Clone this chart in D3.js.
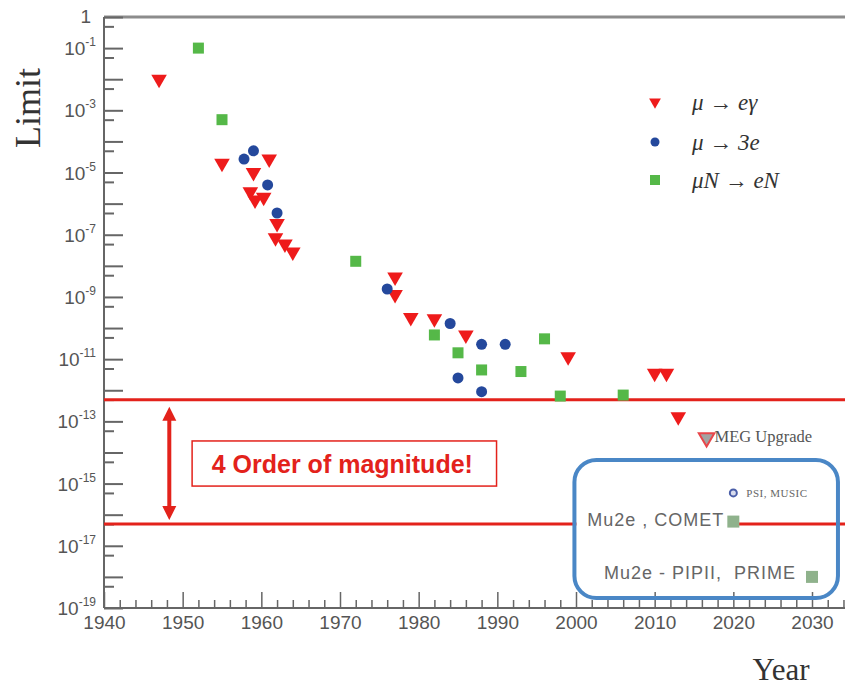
<!DOCTYPE html>
<html>
<head>
<meta charset="utf-8">
<script src="https://cdn.jsdelivr.net/npm/d3@7"></script>
<style>
  body { margin: 0; background: #fff; }
  svg { display: block; }
</style>
</head>
<body>
<div id="chart"></div>
<script>
// mu -> e gamma limits (red triangles)
var megYears  = [1947, 1955, 1959, 1961, 1958.6, 1959.2, 1960.3, 1962, 1961.8, 1963, 1964, 1977, 1977, 1979, 1982, 1986, 1999, 2010, 2011.5, 2013];
var megLimits = [1e-2, 2e-5, 1e-5, 2.7e-5, 2.4e-6, 1.3e-6, 1.6e-6, 2.3e-7, 8e-8, 5e-8, 2.8e-8, 4.4e-9, 1.2e-9, 2.2e-10, 2e-10, 6e-11, 1.2e-11, 3.5e-12, 3.5e-12, 1.4e-13];

// mu -> 3e limits (blue circles)
var m3eYears  = [1957.8, 1959, 1960.8, 1962, 1976, 1984, 1988, 1991, 1985, 1988];
var m3eLimits = [2.7e-5, 5e-5, 4e-6, 5e-7, 1.8e-9, 1.4e-10, 3e-11, 3e-11, 2.5e-12, 9e-13];

// mu N -> e N limits (green squares)
var convYears  = [1952, 1955, 1972, 1982, 1985, 1988, 1993, 1996, 1998, 2006];
var convLimits = [0.1, 5e-4, 1.4e-8, 6e-11, 1.6e-11, 4.5e-12, 4e-12, 4.5e-11, 6.5e-13, 7e-13];

// future projections
var megUpgrade   = {year: 2016.6, limit: 3e-14, label: "MEG Upgrade"};
var m3eFuture    = {year: 2020, limit: 5e-16, label: "PSI, MUSIC"};
var convFuture   = [
  {year: 2020, limit: 6e-17, label: "Mu2e , COMET"},
  {year: 2030, limit: 1e-18, label: "Mu2e - PIPII,  PRIME"}
];

// the two reference lines
var refLines = [5e-13, 5e-17];

var legendLabels = ["μ → eγ", "μ → 3e", "μN → eN"];

var width = 845, height = 688;
var red = "#ee1b1b", blue = "#24489c", green = "#55b848", axisCol = "#666";
var lineRed = "#e3221b";

var svg = d3.select("#chart").append("svg")
  .attr("width", width)
  .attr("height", height);

var x = d3.scaleLinear().domain([1940, 2030]).range([104, 812]);
var y = d3.scaleLog().domain([1, 1e-19]).range([17, 608]);

// top frame line
svg.append("line")
  .attr("x1", x(1940)).attr("x2", width)
  .attr("y1", y(1)).attr("y2", y(1))
  .attr("stroke", "#8c8c8c").attr("stroke-width", 3);

// x axis
var majorYears = d3.range(1940, 2031, 10);
var minorYears = d3.range(1942, 2036, 2).filter(function(d) { return d % 10 != 0; });

var xMajor = svg.append("g")
  .attr("transform", "translate(0," + y(1e-19) + ")")
  .call(d3.axisBottom(x).tickValues(majorYears).tickSize(-16).tickPadding(5).tickFormat(d3.format("d")));
var xMinor = svg.append("g")
  .attr("transform", "translate(0," + y(1e-19) + ")")
  .call(d3.axisBottom(x).tickValues(minorYears).tickSize(-8).tickFormat(""));

[xMajor, xMinor].forEach(function(g) {
  g.select(".domain").remove();
  g.selectAll("line").attr("stroke", axisCol).attr("stroke-width", 1.5);
});
xMajor.selectAll("text")
  .attr("fill", "#555")
  .style("font-family", "Liberation Sans, Arial, sans-serif")
  .style("font-size", "19px")
  .attr("dy", "0.85em");

svg.append("line")
  .attr("x1", x(1940)).attr("x2", width)
  .attr("y1", y(1e-19)).attr("y2", y(1e-19))
  .attr("stroke", axisCol).attr("stroke-width", 2);

// y axis
var decades = d3.range(0, -20, -1).map(function(e) { return Math.pow(10, e); });
var fives = d3.range(-1, -20, -1).map(function(e) { return 5 * Math.pow(10, e); });

var yMajor = svg.append("g")
  .attr("transform", "translate(" + x(1940) + ",0)")
  .call(d3.axisLeft(y).tickValues(decades).tickSize(-19).tickFormat(""));
var yMinor = svg.append("g")
  .attr("transform", "translate(" + x(1940) + ",0)")
  .call(d3.axisLeft(y).tickValues(fives).tickSize(-10).tickFormat(""));

[yMajor, yMinor].forEach(function(g) {
  g.select(".domain").remove();
  g.selectAll("line").attr("stroke", axisCol).attr("stroke-width", 2);
});

svg.append("line")
  .attr("x1", x(1940)).attr("x2", x(1940))
  .attr("y1", y(1)).attr("y2", y(1e-19))
  .attr("stroke", axisCol).attr("stroke-width", 2);

// y tick labels, odd exponents only
var labelExps = [0].concat(d3.range(-1, -20, -2));
var yLabels = svg.append("g")
  .style("font-family", "Liberation Sans, Arial, sans-serif")
  .attr("fill", "#555");

labelExps.forEach(function(e) {
  var t = yLabels.append("text")
    .attr("x", x(1940) - 8)
    .attr("y", y(Math.pow(10, e)) + 7)
    .attr("text-anchor", "end")
    .style("font-size", "19px");
  if (e == 0) {
    t.attr("x", x(1940) - 13).attr("y", y(1) + 6).text("1");
  } else {
    t.append("tspan").text("10");
    t.append("tspan").attr("dy", -9).style("font-size", "12px").text(String(e));
  }
});

// axis titles
svg.append("text")
  .attr("transform", "translate(40,108) rotate(-90)")
  .attr("text-anchor", "middle")
  .style("font-family", "Liberation Serif, DejaVu Serif, serif")
  .style("font-size", "36px")
  .attr("fill", "#333")
  .text("Limit");

svg.append("text")
  .attr("x", 781).attr("y", 680)
  .attr("text-anchor", "middle")
  .style("font-family", "Liberation Serif, DejaVu Serif, serif")
  .style("font-size", "31px")
  .attr("fill", "#333")
  .text("Year");

// reference lines
svg.selectAll(".ref")
  .data(refLines)
  .enter()
  .append("line")
  .attr("x1", x(1940)).attr("x2", width)
  .attr("y1", function(d) { return y(d); })
  .attr("y2", function(d) { return y(d); })
  .attr("stroke", lineRed)
  .attr("stroke-width", 3);

// double arrow between the lines
var ax = x(1948.3), ay1 = y(refLines[0]) + 7, ay2 = y(refLines[1]) - 4;
svg.append("line")
  .attr("x1", ax).attr("x2", ax)
  .attr("y1", ay1 + 10).attr("y2", ay2 - 10)
  .attr("stroke", lineRed).attr("stroke-width", 4);
svg.append("path")
  .attr("d", "M" + ax + "," + ay1 + "L" + (ax - 7) + "," + (ay1 + 14) + "L" + (ax + 7) + "," + (ay1 + 14) + "Z")
  .attr("fill", lineRed);
svg.append("path")
  .attr("d", "M" + ax + "," + ay2 + "L" + (ax - 7) + "," + (ay2 - 14) + "L" + (ax + 7) + "," + (ay2 - 14) + "Z")
  .attr("fill", lineRed);

// annotation box
var bx1 = x(1951.2), bx2 = x(1989.9), by1 = y(Math.pow(10, -13.63)), by2 = y(Math.pow(10, -15.08));
svg.append("rect")
  .attr("x", bx1).attr("y", by1)
  .attr("width", bx2 - bx1).attr("height", by2 - by1)
  .attr("fill", "#fff")
  .attr("stroke", lineRed).attr("stroke-width", 1.5);
svg.append("text")
  .attr("x", (bx1 + bx2) / 2 - 2).attr("y", (by1 + by2) / 2 + 9)
  .attr("text-anchor", "middle")
  .style("font-family", "Liberation Sans, Arial, sans-serif")
  .style("font-weight", "bold")
  .style("font-size", "25px")
  .attr("fill", lineRed)
  .text("4 Order of magnitude!");

// future box
var fx1 = x(1999.8), fx2 = x(2033.3), fy1 = 460, fy2 = 598;
svg.append("rect")
  .attr("x", fx1 + 2).attr("y", y(refLines[1]) - 3)
  .attr("width", x(2020) - fx1 - 2).attr("height", 6)
  .attr("fill", "#fff");
svg.append("rect")
  .attr("x", fx1).attr("y", fy1)
  .attr("width", fx2 - fx1).attr("height", fy2 - fy1)
  .attr("rx", 22).attr("ry", 22)
  .attr("fill", "none")
  .attr("stroke", "#4a87c6").attr("stroke-width", 4);

// markers
var tri = d3.symbol().type(d3.symbolTriangle).size(105);
var megData = megYears.map(function(d, i) { return {year: d, limit: megLimits[i]}; });
var m3eData = m3eYears.map(function(d, i) { return {year: d, limit: m3eLimits[i]}; });
var convData = convYears.map(function(d, i) { return {year: d, limit: convLimits[i]}; });

svg.selectAll(".conv")
  .data(convData)
  .enter()
  .append("rect")
  .attr("x", function(d) { return x(d.year) - 5.5; })
  .attr("y", function(d) { return y(d.limit) - 5.5; })
  .attr("width", 11).attr("height", 11)
  .attr("fill", green);

svg.selectAll(".meg")
  .data(megData)
  .enter()
  .append("path")
  .attr("d", tri)
  .attr("transform", function(d) { return "translate(" + x(d.year) + "," + y(d.limit) + ") rotate(180)"; })
  .attr("fill", red);

svg.selectAll(".m3e")
  .data(m3eData)
  .enter()
  .append("circle")
  .attr("cx", function(d) { return x(d.year); })
  .attr("cy", function(d) { return y(d.limit); })
  .attr("r", 5.5)
  .attr("fill", blue);

// future markers
svg.append("path")
  .attr("d", tri)
  .attr("transform", "translate(" + x(megUpgrade.year) + "," + y(megUpgrade.limit) + ") rotate(180)")
  .attr("fill", "#a3a3a3")
  .attr("stroke", "#e8464a").attr("stroke-width", 2);
svg.append("text")
  .attr("x", x(megUpgrade.year) + 8).attr("y", y(megUpgrade.limit) + 4)
  .style("font-family", "Liberation Serif, DejaVu Serif, serif")
  .style("font-size", "16.5px")
  .attr("fill", "#555")
  .text(megUpgrade.label);

svg.append("circle")
  .attr("cx", x(m3eFuture.year)).attr("cy", y(m3eFuture.limit))
  .attr("r", 3.5)
  .attr("fill", "#d8dced")
  .attr("stroke", "#4a5ea8").attr("stroke-width", 2);
svg.append("text")
  .attr("x", x(m3eFuture.year) + 13).attr("y", y(m3eFuture.limit) + 4)
  .style("font-family", "Liberation Serif, DejaVu Serif, serif")
  .style("font-size", "11px")
  .style("letter-spacing", "0.5px")
  .attr("fill", "#666")
  .text(m3eFuture.label);

svg.selectAll(".convf")
  .data(convFuture)
  .enter()
  .append("rect")
  .attr("x", function(d) { return x(d.year) - 6; })
  .attr("y", function(d) { return y(d.limit) - 6; })
  .attr("width", 12).attr("height", 12)
  .attr("fill", "#8fb28c");

svg.selectAll(".convft")
  .data(convFuture)
  .enter()
  .append("text")
  .attr("x", function(d, i) { return x(d.year) - (i == 0 ? 9 : 16); })
  .attr("y", function(d, i) { return y(d.limit) + (i == 0 ? 4 : 2); })
  .attr("text-anchor", "end")
  .attr("xml:space", "preserve")
  .style("white-space", "pre")
  .style("font-family", "Liberation Sans, Arial, sans-serif")
  .style("font-size", "18px")
  .style("letter-spacing", "1px")
  .attr("fill", "#666")
  .text(function(d) { return d.label; });

// legend
var legend = svg.append("g");
var legendY = [102, 142, 180];
legend.append("path")
  .attr("d", d3.symbol().type(d3.symbolTriangle).size(60))
  .attr("transform", "translate(655," + legendY[0] + ") rotate(180)")
  .attr("fill", red);
legend.append("circle")
  .attr("cx", 655).attr("cy", legendY[1]).attr("r", 4.5)
  .attr("fill", blue);
legend.append("rect")
  .attr("x", 650).attr("y", legendY[2] - 5)
  .attr("width", 10).attr("height", 10)
  .attr("fill", green);

legend.selectAll("text")
  .data(legendLabels)
  .enter()
  .append("text")
  .attr("x", 692)
  .attr("y", function(d, i) { return legendY[i] + 8; })
  .style("font-family", "Liberation Serif, DejaVu Serif, serif")
  .style("font-style", "italic")
  .style("font-size", "23px")
  .attr("fill", "#333")
  .text(function(d) { return d; });
</script>
</body>
</html>
